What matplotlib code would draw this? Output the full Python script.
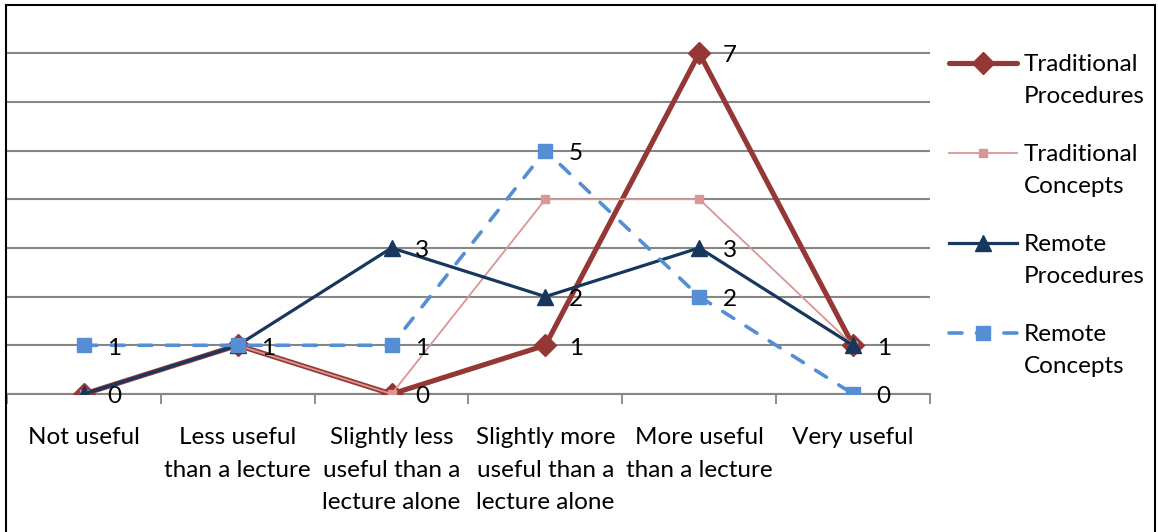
import matplotlib
matplotlib.use("Agg")
import matplotlib.pyplot as plt
from matplotlib.patches import Rectangle
from matplotlib.lines import Line2D

# categories and series values
categories = ["Not useful", "Less useful\nthan a lecture", "Slightly less\nuseful than a\nlecture alone",
              "Slightly more\nuseful than a\nlecture alone", "More useful\nthan a lecture", "Very useful"]
trad_proc = [0, 1, 0, 1, 7, 1]
trad_conc = [0, 1, 0, 4, 4, 1]
remote_proc = [0, 1, 3, 2, 3, 1]
remote_conc = [1, 1, 1, 5, 2, 0]
series_names = ["Traditional\nProcedures", "Traditional\nConcepts", "Remote\nProcedures", "Remote\nConcepts"]

plt.rcParams["font.family"] = ["Lato", "DejaVu Sans"]
FS = 17.5

W, H = 1158, 532
fig = plt.figure(figsize=(W / 100, H / 100), dpi=100)
ax = fig.add_axes([7 / W, 138 / H, (930 - 7) / W, (394 - 4.4) / H])

x = list(range(len(categories)))

styles = [
    dict(color="#953735", lw=3.7, marker="D", ms=11, zorder=3, solid_joinstyle="round", solid_capstyle="round"),
    dict(color="#DA9694", lw=1.3, marker="s", ms=6, zorder=4),
    dict(color="#17375E", lw=2.3, marker="^", ms=11, zorder=5, solid_joinstyle="round"),
    dict(color="#558ED5", lw=2.6, marker="s", ms=10, zorder=6, linestyle=(0, (3.6, 4.0)), dash_capstyle="round"),
]
for vals, st in zip((trad_proc, trad_conc, remote_proc, remote_conc), styles):
    ax.plot(x, vals, **st)

# data labels (one label per position)
seen = set()
for vals in (trad_proc, remote_proc, remote_conc):
    for xi, v in zip(x, vals):
        if (xi, v) in seen:
            continue
        seen.add((xi, v))
        ax.annotate(str(v), (xi, v), xytext=(17, -2), textcoords="offset points",
                    ha="left", va="center", fontsize=FS, zorder=10)

ax.set_xlim(-0.5, 5.5)
ax.set_ylim(0, 8)
ax.set_yticks(range(0, 8))
ax.yaxis.grid(True, color="#868686", lw=1.5)
ax.set_axisbelow(True)
ax.tick_params(axis="y", left=False, labelleft=False)

ax.set_xticks([i - 0.5 for i in range(len(categories) + 1)])
ax.set_xticklabels([])
ax.set_xticks(x, minor=True)
ax.set_xticklabels(categories, minor=True, fontsize=FS, linespacing=1.68)
ax.tick_params(axis="x", which="major", direction="out", length=7, color="#868686", width=1.3)
ax.tick_params(axis="x", which="minor", length=0, pad=24)

for s in ("left", "top", "right"):
    ax.spines[s].set_visible(False)
ax.spines["bottom"].set_color("#868686")
ax.spines["bottom"].set_linewidth(1.5)

# legend: handle level with the first line of each two-line label
for i, (name, st) in enumerate(zip(series_names, styles)):
    ypx = 63 + 90 * i
    yf = 1 - ypx / H
    kw = {k: v for k, v in st.items() if k != "zorder"}
    fig.add_artist(Line2D([949 / W, 983 / W, 1017 / W], [yf, yf, yf], transform=fig.transFigure,
                          markevery=[1], **kw))
    fig.text(1024 / W, 1 - (ypx + 40) / H, name, fontsize=FS, ha="left", va="baseline", linespacing=1.62)

fig.add_artist(Rectangle((6 / W, -0.05), (1155 - 6) / W, 1.05 - 5 / H, transform=fig.transFigure,
                         fill=False, edgecolor="black", lw=1.5))

fig.savefig("out.png", dpi=100)
